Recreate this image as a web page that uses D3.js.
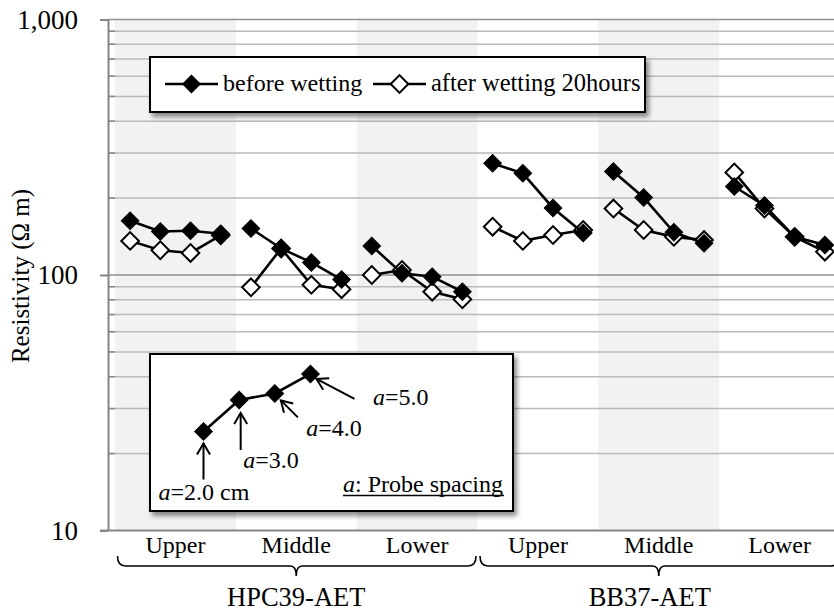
<!DOCTYPE html>
<html>
<head>
<meta charset="utf-8">
<script src="https://cdn.jsdelivr.net/npm/d3@7"></script>
<style>
  body { margin: 0; background: #fff; }
  svg { display: block; }
  text { font-family: "Liberation Serif", "Times New Roman", serif; fill: #000; }
</style>
</head>
<body>
<svg id="chart" width="834" height="614"></svg>
<script>
  // data
  var groups = ["HPC39-AET", "BB37-AET"];
  var positions = ["Upper", "Middle", "Lower"];
  var spacings = [2.0, 3.0, 4.0, 5.0];
  // one row per group/position, one value per probe spacing
  var beforeWetting = [
    [163, 148, 149, 145],
    [152, 127, 112, 96],
    [130, 101.5, 98.5, 86],
    [274, 250, 183, 146],
    [254, 201, 147, 133],
    [222, 187, 141, 131]
  ];
  var afterWetting = [
    [136, 125, 122, 143],
    [89.5, 127, 91.5, 88],
    [100, 104.6, 86, 80.3],
    [154.5, 136, 143.4, 150],
    [182, 150, 141, 137],
    [252, 182, 141, 123.4]
  ];
  var yTicks = [10, 100, 1000];
  var seriesNames = ["before wetting", "after wetting 20hours"];
  // sample curve shown in the inset
  var insetValues = [24.4, 32.4, 34.4, 41];

  var svg = d3.select("#chart");
  var W = 834;

  var keys = [];
  groups.forEach(function (g) {
    positions.forEach(function (p) { keys.push(g + "|" + p); });
  });

  var band = d3.scaleBand().domain(keys).range([115, 840]);
  var xin = d3.scalePoint().domain(spacings).range([0, band.bandwidth()]).padding(0.5);
  var y = d3.scaleLog().domain([10, 1000]).range([530.5, 19.5]);
  var axisX = 108;

  var defs = svg.append("defs");
  var f = defs.append("filter").attr("id", "shadow")
    .attr("x", "-10%").attr("y", "-20%").attr("width", "130%").attr("height", "150%");
  f.append("feDropShadow").attr("dx", 3).attr("dy", 4).attr("stdDeviation", 2.5)
    .attr("flood-color", "#000").attr("flood-opacity", 0.45);

  // shaded bands
  svg.append("g").selectAll("rect")
    .data(keys.filter(function (d, i) { return i % 2 === 0; }))
    .enter().append("rect")
    .attr("x", function (d) { return band(d); })
    .attr("y", y(1000))
    .attr("width", band.bandwidth())
    .attr("height", y(10) - y(1000))
    .attr("fill", "#f2f2f2");

  // gridlines
  var minor = [];
  [10, 100].forEach(function (d) {
    for (var k = 2; k <= 9; k++) minor.push(d * k);
  });
  svg.append("g").selectAll("line")
    .data(minor)
    .enter().append("line")
    .attr("x1", axisX).attr("x2", W)
    .attr("y1", function (d) { return y(d); })
    .attr("y2", function (d) { return y(d); })
    .attr("stroke", "#bababa").attr("stroke-width", 1.5);
  svg.append("g").selectAll("line")
    .data([100, 1000])
    .enter().append("line")
    .attr("x1", axisX).attr("x2", W)
    .attr("y1", function (d) { return y(d); })
    .attr("y2", function (d) { return y(d); })
    .attr("stroke", "#8f8f8f").attr("stroke-width", 1.5);
  // minor ticks inside the axis
  svg.append("g").selectAll("line")
    .data(minor)
    .enter().append("line")
    .attr("x1", axisX).attr("x2", axisX + 7)
    .attr("y1", function (d) { return y(d); })
    .attr("y2", function (d) { return y(d); })
    .attr("stroke", "#888").attr("stroke-width", 1.5);

  // y axis
  var yAxis = svg.append("g")
    .attr("transform", "translate(" + axisX + ",0)")
    .call(d3.axisLeft(y).tickValues(yTicks).tickFormat(d3.format(","))
      .tickSize(8).tickSizeOuter(0).tickPadding(22));
  yAxis.select(".domain").attr("stroke", "#868686").attr("stroke-width", 2);
  yAxis.selectAll(".tick line").attr("stroke", "#868686").attr("stroke-width", 2);
  yAxis.selectAll(".tick text")
    .style("font-family", "'Liberation Serif', 'Times New Roman', serif")
    .style("font-size", "27px").attr("fill", "#000");

  // x baseline
  svg.append("line")
    .attr("x1", 100).attr("x2", W)
    .attr("y1", y(10)).attr("y2", y(10))
    .attr("stroke", "#868686").attr("stroke-width", 2);

  // y title
  svg.append("text")
    .attr("transform", "translate(29,276) rotate(-90)")
    .attr("text-anchor", "middle")
    .style("font-size", "25px")
    .text("Resistivity (Ω m)");

  // series
  var diamond = d3.symbol().type(d3.symbolSquare).size(155);
  var line = d3.line()
    .x(function (d) { return d.x; })
    .y(function (d) { return d.y; });

  function drawSeries(values, filled) {
    var g = svg.append("g");
    keys.forEach(function (k, i) {
      var pts = values[i].map(function (v, j) {
        return { x: band(k) + xin(spacings[j]), y: y(v) };
      });
      g.append("path")
        .attr("d", line(pts))
        .attr("fill", "none")
        .attr("stroke", "#000")
        .attr("stroke-width", 2.6);
      g.selectAll(null)
        .data(pts)
        .enter().append("path")
        .attr("d", diamond)
        .attr("transform", function (d) { return "translate(" + d.x + "," + d.y + ") rotate(45)"; })
        .attr("fill", filled ? "#000" : "#fff")
        .attr("stroke", "#000")
        .attr("stroke-width", filled ? 1 : 2);
    });
  }
  drawSeries(afterWetting, false);
  drawSeries(beforeWetting, true);

  // legend
  var lg = svg.append("g");
  lg.append("rect")
    .attr("x", 150).attr("y", 57).attr("width", 495).attr("height", 55)
    .attr("fill", "#fff").attr("stroke", "#000").attr("stroke-width", 2)
    .attr("filter", "url(#shadow)");
  var legendItems = [
    { name: seriesNames[0], filled: true, x: 165, size: "24px" },
    { name: seriesNames[1], filled: false, x: 373, size: "24.5px" }
  ];
  legendItems.forEach(function (it) {
    lg.append("line")
      .attr("x1", it.x).attr("x2", it.x + 53)
      .attr("y1", 84).attr("y2", 84)
      .attr("stroke", "#000").attr("stroke-width", 2.5);
    lg.append("path")
      .attr("d", diamond)
      .attr("transform", "translate(" + (it.x + 26.5) + ",84) rotate(45)")
      .attr("fill", it.filled ? "#000" : "#fff")
      .attr("stroke", "#000").attr("stroke-width", it.filled ? 1 : 2);
    lg.append("text")
      .attr("x", it.x + 58).attr("y", 91)
      .style("font-size", it.size)
      .text(it.name);
  });

  // inset
  var ins = svg.append("g");
  ins.append("rect")
    .attr("x", 150).attr("y", 354).attr("width", 363).attr("height", 157)
    .attr("fill", "#fff").attr("stroke", "#000").attr("stroke-width", 2)
    .attr("filter", "url(#shadow)");
  var xs = d3.scaleLinear().domain([2, 5]).range([203.5, 310.5]);
  var ipts = insetValues.map(function (v, j) {
    return { x: xs(spacings[j]), y: y(v), s: spacings[j] };
  });
  ins.append("path")
    .attr("d", line(ipts))
    .attr("fill", "none").attr("stroke", "#000").attr("stroke-width", 2.6);
  ins.selectAll(null).data(ipts).enter().append("path")
    .attr("d", diamond)
    .attr("transform", function (d) { return "translate(" + d.x + "," + d.y + ") rotate(45)"; })
    .attr("fill", "#000").attr("stroke", "#000");

  // arrow layout relative to each inset point: tail offset, tip offset, label position
  var notes = [
    { tail: [0, 48], tip: [0, 12], lx: -45, ly: 68, unit: " cm" },
    { tail: [1.5, 50], tip: [1.5, 13], lx: 4, ly: 68, unit: "" },
    { tail: [23, 24], tip: [6, 7], lx: 31.5, ly: 43, unit: "" },
    { tail: [44, 25], tip: [6, 5], lx: 62.5, ly: 31, unit: "" }
  ];
  ipts.forEach(function (p, i) {
    var n = notes[i];
    var tx = p.x + n.tail[0], ty = p.y + n.tail[1];
    var px = p.x + n.tip[0], py = p.y + n.tip[1];
    var dx = px - tx, dy = py - ty, len = Math.sqrt(dx * dx + dy * dy);
    var ux = dx / len, uy = dy / len, nx = -uy, ny = ux;
    ins.append("line")
      .attr("x1", tx).attr("y1", ty).attr("x2", px).attr("y2", py)
      .attr("stroke", "#000").attr("stroke-width", 2);
    ins.append("path")
      .attr("d", "M" + (px - 11 * ux + 6.5 * nx) + "," + (py - 11 * uy + 6.5 * ny) +
        "L" + px + "," + py +
        "L" + (px - 11 * ux - 6.5 * nx) + "," + (py - 11 * uy - 6.5 * ny))
      .attr("fill", "none").attr("stroke", "#000").attr("stroke-width", 2);
    var t = ins.append("text")
      .attr("x", p.x + n.lx).attr("y", p.y + n.ly)
      .style("font-size", "24px");
    t.append("tspan").style("font-style", "italic").text("a");
    t.append("tspan").text("=" + d3.format(".1f")(p.s) + n.unit);
  });
  var ps = ins.append("text")
    .attr("x", 343).attr("y", 491.5)
    .style("font-size", "24px");
  ps.append("tspan").style("font-style", "italic").text("a");
  ps.append("tspan").text(": Probe spacing");
  ins.append("line")
    .attr("x1", 343).attr("x2", 504)
    .attr("y1", 495.5).attr("y2", 495.5)
    .attr("stroke", "#000").attr("stroke-width", 1.5);

  // category labels
  svg.append("g").selectAll("text")
    .data(keys)
    .enter().append("text")
    .attr("x", function (d) { return band(d) + band.bandwidth() / 2; })
    .attr("y", 553)
    .attr("text-anchor", "middle")
    .style("font-size", "24px")
    .text(function (d) { return d.split("|")[1]; });

  // group braces and labels
  groups.forEach(function (g, i) {
    var a = band(g + "|" + positions[0]) + 2.5;
    var b = band(g + "|" + positions[positions.length - 1]) + band.bandwidth() - 1.5;
    var c = (band(g + "|" + positions[0]) + band(g + "|" + positions[positions.length - 1]) + band.bandwidth()) / 2;
    svg.append("path")
      .attr("d", "M" + a + ",556 Q" + a + ",566 " + (a + 8) + ",566 H" + (c - 6) +
        " Q" + c + ",566 " + c + ",576 Q" + c + ",566 " + (c + 6) + ",566 H" + (b - 8) +
        " Q" + b + ",566 " + b + ",556")
      .attr("fill", "none").attr("stroke", "#000").attr("stroke-width", 1.6);
    svg.append("text")
      .attr("x", i === 0 ? c : c - 9).attr("y", 606)
      .attr("text-anchor", "middle")
      .style("font-size", "26.5px")
      .text(g);
  });
</script>
</body>
</html>
